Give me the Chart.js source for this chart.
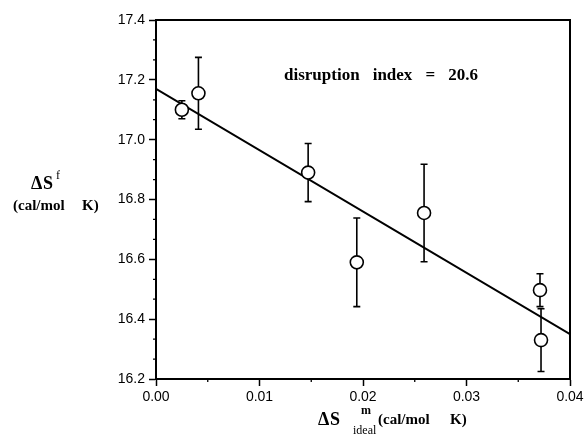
<!DOCTYPE html>
<html>
<head>
<meta charset="utf-8">
<script src="https://cdn.jsdelivr.net/npm/chart.js@4"></script>
<style>
html,body{margin:0;padding:0;background:#fff;}
#wrap{width:584px;height:445px;position:relative;}
</style>
</head>
<body>
<div id="wrap"><canvas id="c" width="584" height="445"></canvas></div>
<script>
// Data
const xValues = [0.0025, 0.0041, 0.0147, 0.0194, 0.0259, 0.0371, 0.0372];
const yValues = [17.10, 17.155, 16.89, 16.59, 16.755, 16.497, 16.33];
const yErrors = [0.03, 0.12, 0.097, 0.148, 0.163, 0.055, 0.105];
const fitX = [0.0, 0.04];
const fitY = [17.17, 16.35];
const xTicks = [0.00, 0.01, 0.02, 0.03, 0.04];
const yTicks = [16.2, 16.4, 16.6, 16.8, 17.0, 17.2, 17.4];
const xMinorTicks = [0.005, 0.015, 0.025, 0.035];
const yMinorTicks = [16.2667, 16.3333, 16.4667, 16.5333, 16.6667, 16.7333, 16.8667, 16.9333, 17.0667, 17.1333, 17.2667, 17.3333];
const annotationText = ["disruption", "index", "=", "20.6"];

const pts = xValues.map((x, i) => ({x: x, y: yValues[i]}));
const fitPts = fitX.map((x, i) => ({x: x, y: fitY[i]}));

const framePlugin = {
  id: 'frame',
  beforeDatasetsDraw(chart) {
    const ctx = chart.ctx, xs = chart.scales.x, ys = chart.scales.y;
    ctx.save();
    ctx.strokeStyle = '#000';
    ctx.lineWidth = 1.6;
    xValues.forEach((x, i) => {
      const px = xs.getPixelForValue(x);
      const top = ys.getPixelForValue(yValues[i] + yErrors[i]);
      const bot = ys.getPixelForValue(yValues[i] - yErrors[i]);
      ctx.beginPath();
      ctx.moveTo(px, top); ctx.lineTo(px, bot);
      ctx.moveTo(px - 3.5, top); ctx.lineTo(px + 3.5, top);
      ctx.moveTo(px - 3.5, bot); ctx.lineTo(px + 3.5, bot);
      ctx.stroke();
    });
    ctx.restore();
  },
  afterDraw(chart) {
    const ctx = chart.ctx, xs = chart.scales.x, ys = chart.scales.y, a = chart.chartArea;
    ctx.save();
    ctx.strokeStyle = '#000';
    ctx.lineWidth = 2;
    ctx.beginPath();
    ctx.moveTo(a.left, a.top); ctx.lineTo(a.right, a.top); ctx.lineTo(a.right, a.bottom);
    ctx.stroke();
    ctx.lineWidth = 1.3;
    ctx.beginPath();
    yMinorTicks.forEach(v => {
      const py = ys.getPixelForValue(v);
      ctx.moveTo(a.left - 3, py); ctx.lineTo(a.left, py);
    });
    xMinorTicks.forEach(v => {
      const px = xs.getPixelForValue(v);
      ctx.moveTo(px, a.bottom); ctx.lineTo(px, a.bottom + 3);
    });
    ctx.stroke();

    ctx.fillStyle = '#000';
    ctx.textBaseline = 'alphabetic';
    ctx.textAlign = 'left';
    // annotation, words spread between 284 and 478
    ctx.font = 'bold 17px "Liberation Serif"';
    const widths = annotationText.map(t => ctx.measureText(t).width);
    const total = widths.reduce((s, w) => s + w, 0);
    const gap = (478 - 284 - total) / (annotationText.length - 1);
    let cx = 284;
    annotationText.forEach((t, i) => { ctx.fillText(t, cx, 80); cx += widths[i] + gap; });

    // y axis title
    ctx.font = 'bold 18px "Liberation Serif"';
    ctx.fillText('\u0394', 31, 189);
    ctx.fillText('S', 43, 189);
    ctx.font = '12px "Liberation Serif"';
    ctx.fillText('f', 56, 179);
    ctx.font = 'bold 15px "Liberation Serif"';
    ctx.fillText('(cal/mol', 13, 210);
    ctx.fillText('K)', 82, 210);

    // x axis title
    ctx.font = 'bold 18px "Liberation Serif"';
    ctx.fillText('\u0394', 318, 425);
    ctx.fillText('S', 330, 425);
    ctx.font = 'bold 12px "Liberation Serif"';
    ctx.fillText('m', 361, 414);
    ctx.font = '12px "Liberation Serif"';
    ctx.fillText('ideal', 353, 434);
    ctx.font = 'bold 15px "Liberation Serif"';
    ctx.fillText('(cal/mol', 378, 424);
    ctx.fillText('K)', 450, 424);
    ctx.restore();
  }
};

new Chart(document.getElementById('c'), {
  type: 'scatter',
  data: {
    datasets: [
      {
        label: 'data',
        data: pts,
        showLine: false,
        pointRadius: 6.5,
        pointHoverRadius: 6.5,
        pointBackgroundColor: '#fff',
        pointBorderColor: '#000',
        pointBorderWidth: 1.6
      },
      {
        label: 'fit',
        type: 'line',
        data: fitPts,
        borderColor: '#000',
        borderWidth: 2,
        pointRadius: 0,
        fill: false
      }
    ]
  },
  options: {
    responsive: false,
    animation: false,
    layout: {padding: {top: 20, right: 14, left: 0, bottom: 0}},
    plugins: {legend: {display: false}, tooltip: {enabled: false}},
    scales: {
      x: {
        type: 'linear',
        min: 0, max: 0.04,
        afterFit(s) { s.height = 66; s.paddingRight = 0; s.paddingLeft = 0; },
        afterBuildTicks(s) { s.ticks = xTicks.map(v => ({value: v})); },
        ticks: {
          color: '#000',
          font: {family: '"Liberation Sans"', size: 14},
          padding: 3,
          maxRotation: 0,
          callback: v => Number(v).toFixed(2)
        },
        grid: {drawOnChartArea: false, drawTicks: true, tickLength: 7, tickColor: '#000', tickWidth: 1.5},
        border: {display: true, color: '#000', width: 2}
      },
      y: {
        type: 'linear',
        min: 16.2, max: 17.4,
        afterFit(s) { s.width = 156; s.paddingTop = 0; s.paddingBottom = 0; },
        afterBuildTicks(s) { s.ticks = yTicks.map(v => ({value: v})); },
        ticks: {
          color: '#000',
          font: {family: '"Liberation Sans"', size: 14},
          padding: 4,
          callback: v => Number(v).toFixed(1)
        },
        grid: {drawOnChartArea: false, drawTicks: true, tickLength: 7, tickColor: '#000', tickWidth: 1.5},
        border: {display: true, color: '#000', width: 2}
      }
    }
  },
  plugins: [framePlugin]
});
</script>
</body>
</html>
